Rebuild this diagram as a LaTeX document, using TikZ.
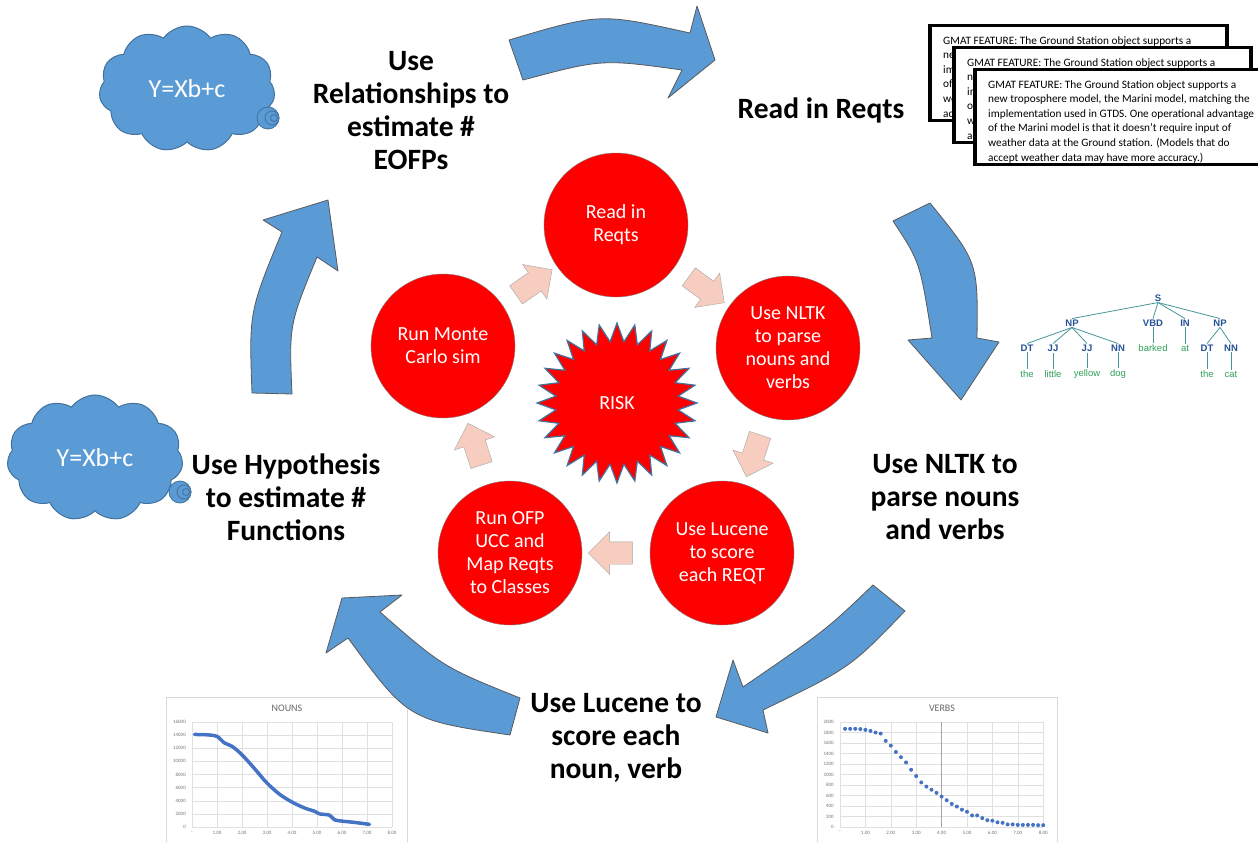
\documentclass[tikz,border=0pt]{standalone}
\usepackage{fontspec}
\setmainfont{Carlito}
\newfontfamily\treefont{Liberation Sans}
\usetikzlibrary{calc, shapes.geometric, shapes.symbols, shapes.arrows}

\definecolor{bubbleblue}{RGB}{91,155,213}
\definecolor{bubbleline}{RGB}{65,113,156}
\definecolor{peach}{RGB}{246,205,190}
\definecolor{tagblue}{RGB}{35,80,150}
\definecolor{leafgreen}{RGB}{50,160,90}
\definecolor{treeline}{RGB}{70,150,150}
\definecolor{plotblue}{RGB}{68,114,196}

\begin{document}
\begin{tikzpicture}[x=1pt, y=-1pt,
  stage/.style={circle, minimum size=144pt, inner sep=0pt, fill=red, draw=black!50,
    text=white, align=center, font=\fontsize{20}{23}\selectfont},
  steptext/.style={align=center, font=\bfseries\fontsize{29.5}{33}\selectfont},
  flow/.style={single arrow, single arrow head extend=10pt, minimum height=44pt,
    inner xsep=0pt, inner ysep=11pt, fill=peach, draw=black!35},
  bigarrow/.style={fill=bubbleblue, draw=black!65, line width=0.8pt, line join=round},
  cloudbox/.style={cloud, cloud puffs=11, cloud puff arc=110, aspect=1.4,
    minimum width=176pt, minimum height=126pt, inner sep=0pt, fill=bubbleblue,
    draw=bubbleline, line width=1pt, text=white, font=\fontsize{26}{30}\selectfont},
  bubble/.style={fill=bubbleblue, draw=bubbleline, line width=0.8pt},
  docbox/.style={draw, line width=3.5pt, fill=white, anchor=north west,
    minimum width=297pt, minimum height=95pt, inner sep=0pt},
  doctext/.style={anchor=north west, inner sep=0pt, align=left,
    font=\fontsize{11.3}{14.6}\selectfont},
  tag/.style={inner sep=1pt, text=tagblue, font=\treefont\bfseries\fontsize{9.5}{10}\selectfont},
  leaf/.style={inner sep=1pt, text=leafgreen, font=\treefont\fontsize{9.5}{10}\selectfont},
  treeedge/.style={draw=treeline, line width=0.8pt},
  chartframe/.style={draw=black!15, line width=0.6pt},
  charttitle/.style={text=black!60, font=\fontsize{10}{12}\selectfont},
  gridline/.style={draw=black!12, line width=0.5pt},
  ticklab/.style={inner sep=1pt, text=black!55, font=\fontsize{5}{6}\selectfont},
  plotline/.style={draw=plotblue, line width=3.5pt, line cap=round, line join=round}
]
\useasboundingbox (0,0) rectangle (1258,842);

% charts
\draw[chartframe] (166,697) rectangle (407,860);
\node[charttitle] (nounstitle) at (287,708) {NOUNS};
\begin{scope}[shift={(192,827)}, x=25pt, y=6.5625pt]
  \foreach \v in {0,2,...,16} \draw[gridline] (0,\v) -- (8,\v);
  \foreach \u in {0,...,8} \draw[gridline] (\u,0) -- (\u,16);
  \foreach \v/\t in {0/0,2/2000,4/4000,6/6000,8/8000,10/10000,12/12000,14/14000,16/16000}
    \node[ticklab, anchor=east] at (-0.2,\v) {\t};
  \foreach \u/\t in {0/-,1/1.00,2/2.00,3/3.00,4/4.00,5/5.00,6/6.00,7/7.00,8/8.00}
    \node[ticklab, anchor=north] at (\u,-0.5) {\t};
  \draw[plotline] plot[smooth] coordinates {(0.1,14.1) (0.6,14.05) (1.0,13.8) (1.3,12.8)
    (1.6,12.3) (2.0,11.0) (2.5,8.9) (3.0,6.7) (3.5,5.0) (4.0,3.8) (4.5,2.9) (4.9,2.4)
    (5.1,2.0) (5.5,1.8) (5.7,1.1) (6.0,0.9) (6.5,0.7) (7.1,0.4)};
\end{scope}

\draw[chartframe] (817,697) rectangle (1057,860);
\node[charttitle] (verbstitle) at (942,708) {VERBS};
\begin{scope}[shift={(840,827)}, x=25.4pt, y=5.25pt]
  \foreach \v in {0,2,...,20} \draw[gridline] (0,\v) -- (8,\v);
  \foreach \u in {0,...,8} \draw[gridline] (\u,0) -- (\u,20);
  \draw[draw=black!35, line width=0.5pt] (4,0) -- (4,20);
  \foreach \v in {0,2,...,20} {
    \pgfmathtruncatemacro\lab{\v*100}
    \node[ticklab, anchor=east] at (-0.2,\v) {\lab};
  }
  \foreach \u/\t in {0/-,1/1.00,2/2.00,3/3.00,4/4.00,5/5.00,6/6.00,7/7.00,8/8.00}
    \node[ticklab, anchor=north] at (\u,-0.5) {\t};
  \foreach \v [count=\i] in {18.7,18.7,18.7,18.65,18.5,18.3,18.0,17.8,16.4,15.5,
      14.3,13.3,12.3,10.9,9.7,8.5,7.7,7.1,6.5,5.8,5.1,4.4,3.9,3.3,2.9,2.2,2.2,
      1.7,1.3,1.2,0.9,0.8,0.5,0.5,0.4,0.4,0.4,0.4,0.35,0.35}
    \fill[plotblue] (\i*0.2,\v) circle[radius=2pt];
\end{scope}

% outer cycle
\draw[bigarrow] (509,40) .. controls (600,13) .. (690,33) -- (697,6) -- (715,60)
  -- (668,98) -- (682,70) .. controls (602,59) .. (523,80) -- cycle;
\draw[bigarrow] (893,221) -- (930,203) .. controls (978,262) .. (977,338) -- (999,342)
  -- (961,400) -- (908,340) -- (932,338) .. controls (920,262) .. (893,221) -- cycle;
\draw[bigarrow] (873,585) -- (905,611) .. controls (850,668) .. (763,710) -- (768,733)
  -- (716,717) -- (733,660) -- (743,687) .. controls (826,630) .. (873,585) -- cycle;
\draw[bigarrow] (402,595) -- (342,598) -- (326,653) -- (348,638)
  .. controls (408,720) .. (510,735) -- (520,698) .. controls (443,667) .. (380,612) -- cycle;
\draw[bigarrow] (252,393) .. controls (249,312) .. (282,232) -- (263,220) -- (328,200)
  -- (338,271) -- (317,257) .. controls (289,325) .. (292,394) -- cycle;

\node[steptext] (relText) at (411,111) {Use\\Relationships to\\estimate \#\\EOFPs};
\node[steptext] (readText) at (821,110) {Read in Reqts};
\node[steptext] (nltkText) at (945,497) {Use NLTK to\\parse nouns\\and verbs};
\node[steptext] (luceneText) at (616,738) {Use Lucene to\\score each\\noun, verb};
\node[steptext] (hypText) at (286,497) {Use Hypothesis\\to estimate \#\\Functions};

% clouds
\node[cloudbox] (cloudTop) at (187,89) {Y=Xb+c};
\draw[bubble] (268,118) circle[radius=11];
\draw[bubble] (272,118) circle[radius=7];
\draw[bubble] (274,118) circle[radius=3.5];
\node[cloudbox] (cloudLow) at (95,458) {Y=Xb+c};
\draw[bubble] (180,492) circle[radius=11];
\draw[bubble] (184,492) circle[radius=7];
\draw[bubble] (186,492) circle[radius=3.5];

% requirement sheets
\foreach \x/\y [count=\i] in {928/24, 952/46, 973/68} {
  \node[docbox] (doc\i) at (\x,\y) {};
  \node[doctext] (doctext\i) at ($(doc\i.north west)+(15,12)$) {GMAT FEATURE: The Ground Station object supports a\\
    new troposphere model, the Marini model, matching the\\
    implementation used in GTDS. One operational advantage\\
    of the Marini model is that it doesn't require input of\\
    weather data at the Ground station. (Models that do\\
    accept weather data may have more accuracy.)};
}

% parse tree
\node[tag] (tS) at (1158,298) {S};
\node[tag] (tNPa) at (1072,323) {NP};
\node[tag] (tVBD) at (1153,323) {VBD};
\node[tag] (tIN) at (1185,323) {IN};
\node[tag] (tNPb) at (1220,323) {NP};
\node[tag] (tDTa) at (1027,348) {DT};
\node[tag] (tJJa) at (1053,348) {JJ};
\node[tag] (tJJb) at (1087,348) {JJ};
\node[tag] (tNNa) at (1118,348) {NN};
\node[leaf] (lBarked) at (1153,348) {barked};
\node[leaf] (lAt) at (1185,348) {at};
\node[tag] (tDTb) at (1207,348) {DT};
\node[tag] (tNNb) at (1231,348) {NN};
\node[leaf] (lThea) at (1027,374) {the};
\node[leaf] (lLittle) at (1053,374) {little};
\node[leaf] (lYellow) at (1087,374) {yellow};
\node[leaf] (lDog) at (1118,374) {dog};
\node[leaf] (lTheb) at (1207,374) {the};
\node[leaf] (lCat) at (1231,374) {cat};
\foreach \a/\b in {tS/tNPa, tS/tVBD, tS/tIN, tS/tNPb, tNPa/tDTa, tNPa/tJJa, tNPa/tJJb,
    tNPa/tNNa, tVBD/lBarked, tIN/lAt, tNPb/tDTb, tNPb/tNNb, tDTa/lThea, tJJa/lLittle,
    tJJb/lYellow, tNNa/lDog, tDTb/lTheb, tNNb/lCat}
  \draw[treeedge] (\a.south) -- (\b.north);

% inner cycle
\node[stage] (read) at (616,225) {Read in\\Reqts};
\node[stage] (nltk) at (788,348) {Use NLTK\\to parse\\nouns and\\verbs};
\node[stage] (lucene) at (722,553) {Use Lucene\\to score\\each REQT};
\node[stage] (ofp) at (510,553) {Run OFP\\UCC and\\Map Reqts\\to Classes};
\node[stage] (monte) at (443,346) {Run Monte\\Carlo sim};
\node[star, star points=28, star point ratio=1.3, minimum size=160pt, inner sep=0pt,
  fill=red, draw=bubbleline, line width=1.2pt, text=white,
  font=\fontsize{20}{23}\selectfont] (risk) at (617,403) {RISK};

\node[flow, rotate=-36] (f1) at ($(read)!0.5!(nltk)$) {};
\node[flow, rotate=-108] (f2) at ($(nltk)!0.5!(lucene)$) {};
\node[flow, rotate=180] (f3) at ($(lucene)!0.5!(ofp)$) {};
\node[flow, rotate=108] (f4) at ($(ofp)!0.5!(monte)$) {};
\node[flow, rotate=35] (f5) at ($(monte)!0.5!(read)$) {};
\end{tikzpicture}
\end{document}
